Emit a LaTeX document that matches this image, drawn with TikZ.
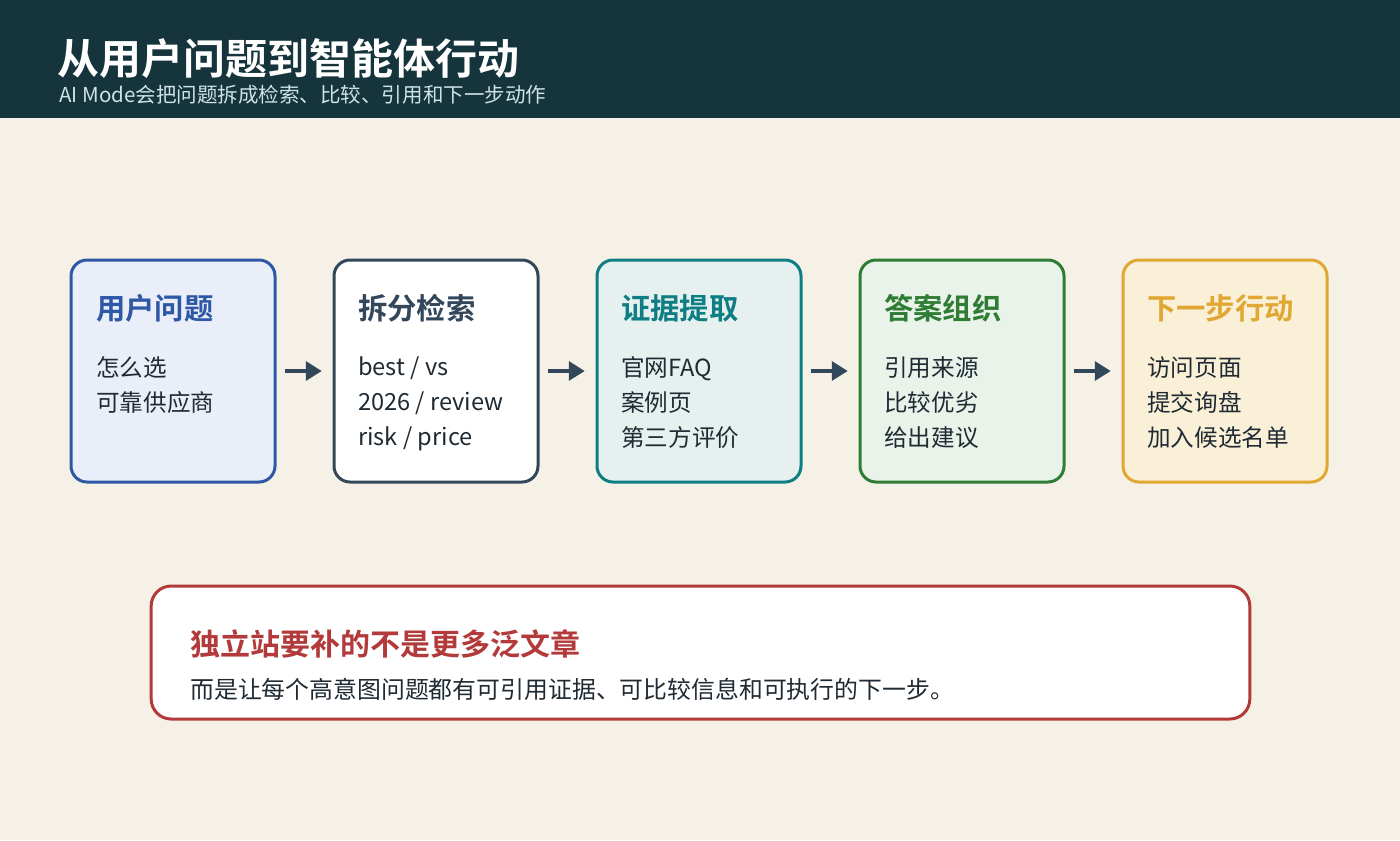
\documentclass[tikz,border=0pt]{standalone}
\usepackage{fontspec}
\setmainfont{Noto Sans CJK SC}
\newfontfamily\cjkb{Noto Sans CJK SC Bold}
\usetikzlibrary{arrows.meta}
\definecolor{hdr}{HTML}{15343C}
\definecolor{bg}{HTML}{F6F1E6}
\definecolor{subc}{HTML}{CFE3E6}
\definecolor{ink}{HTML}{1F2A33}
\definecolor{cA}{HTML}{2E58A6}\definecolor{fA}{HTML}{E9EEF8}
\definecolor{cB}{HTML}{33475B}\definecolor{fB}{HTML}{FFFFFF}
\definecolor{cC}{HTML}{0F7E84}\definecolor{fC}{HTML}{E6F1EF}
\definecolor{cD}{HTML}{2F7D34}\definecolor{fD}{HTML}{EAF3EA}
\definecolor{cE}{HTML}{E0A832}\definecolor{fE}{HTML}{FAF0D8}
\definecolor{cR}{HTML}{B23A3A}
\tikzset{
  stagebox/.style={draw=#1, line width=2.25pt, rounded corners=12pt, minimum width=153pt, minimum height=166.5pt, inner sep=0pt},
  stagetitle/.style={anchor=west, text=#1, inner sep=0pt, font=\cjkb\fontsize{22}{26}\selectfont},
  stagebody/.style={anchor=west, text=ink, inner sep=0pt, align=left, font=\fontsize{17.7}{26.25}\selectfont},
  arr/.style={draw=cB, line width=3pt, -{Triangle[length=12pt,width=14pt]}, shorten <=6pt, shorten >=8pt},
}
\begin{document}
\begin{tikzpicture}[x=0.75pt, y=-0.75pt]
\useasboundingbox (0,0) rectangle (1400,840);
\fill[bg] (0,0) rectangle (1400,840);
\fill[hdr] (0,0) rectangle (1400,118);
\node[anchor=west, inner sep=0pt, text=white, font=\cjkb\fontsize{31.5}{36}\selectfont] (title) at (57,59) {从用户问题到智能体行动};
\node[anchor=west, inner sep=0pt, text=subc, font=\fontsize{15.4}{18}\selectfont] (subtitle) at (59,95) {AI Mode会把问题拆成检索、比较、引用和下一步动作};

\node[stagebox=cA, fill=fA] (b1) at (173,371) {};
\node[stagebox=cB, fill=fB] (b2) at (436,371) {};
\node[stagebox=cC, fill=fC] (b3) at (699,371) {};
\node[stagebox=cD, fill=fD] (b4) at (962,371) {};
\node[stagebox=cE, fill=fE] (b5) at (1225,371) {};

\node[stagetitle=cA] (t1) at (96,308) {用户问题};
\node[stagetitle=cB] (t2) at (358,308) {拆分检索};
\node[stagetitle=cC] (t3) at (621,308) {证据提取};
\node[stagetitle=cD] (t4) at (884,308) {答案组织};
\node[stagetitle=cE] (t5) at (1147,308) {下一步行动};

\node[stagebody, anchor=north west] (d1) at (96,356) {怎么选\\可靠供应商};
\node[stagebody, anchor=north west] (d2) at (358,356) {best / vs\\2026 / review\\risk / price};
\node[stagebody, anchor=north west] (d3) at (621,356) {官网FAQ\\案例页\\第三方评价};
\node[stagebody, anchor=north west] (d4) at (884,356) {引用来源\\比较优劣\\给出建议};
\node[stagebody, anchor=north west] (d5) at (1147,356) {访问页面\\提交询盘\\加入候选名单};

\draw[arr] (b1.east) -- (b2.west);
\draw[arr] (b2.east) -- (b3.west);
\draw[arr] (b3.east) -- (b4.west);
\draw[arr] (b4.east) -- (b5.west);

\node[draw=cR, fill=white, line width=2.25pt, rounded corners=15pt, minimum width=824pt, minimum height=99.75pt, inner sep=0pt] (note) at (700.5,652.5) {};
\node[anchor=west, inner sep=0pt, text=cR, font=\cjkb\fontsize{22.5}{26}\selectfont] (nt) at (190,644) {独立站要补的不是更多泛文章};
\node[anchor=west, inner sep=0pt, text=ink, font=\fontsize{17.9}{22}\selectfont] (nb) at (190,689) {而是让每个高意图问题都有可引用证据、可比较信息和可执行的下一步。};
\end{tikzpicture}
\end{document}
